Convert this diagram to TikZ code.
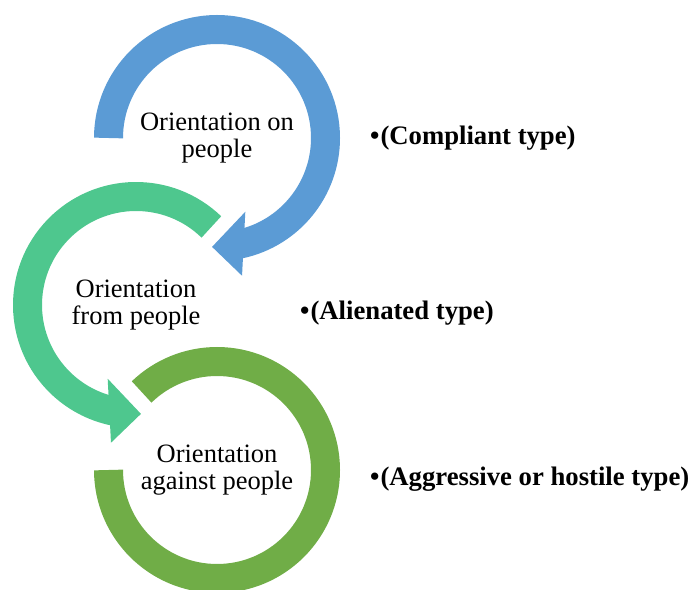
\documentclass[tikz,border=0pt]{standalone}
\usepackage{fontspec}
\setmainfont{Liberation Serif}
\usepackage{tikz}
\usetikzlibrary{positioning}
\definecolor{ringblue}{RGB}{91,155,213}
\definecolor{ringteal}{RGB}{78,199,142}
\definecolor{ringgreen}{RGB}{112,173,71}

\begin{document}
\begin{tikzpicture}[
  x=1pt, y=1pt,
  ring/.style={line width=29pt},
  stage/.style={align=center, inner sep=0pt, font=\fontsize{26.5}{27.5}\selectfont},
  kind/.style={anchor=base west, inner sep=0pt, font=\fontsize{26.7}{30}\selectfont\bfseries}
]
\useasboundingbox (0,0) rectangle (692,589);

\coordinate (onC) at (217,451);
\coordinate (fromC) at (136,284);
\coordinate (againstC) at (217,119);

% rings
\draw[ring, ringgreen] (againstC) ++(180:108.5) arc[start angle=180, end angle=494, radius=108.5];

\draw[ring, ringteal] (fromC) ++(46:108.5) arc[start angle=46, end angle=258, radius=108.5];
\fill[ringteal] ([shift={(249:79)}]fromC) -- ([shift={(259.7:140)}]fromC) -- ([shift={(272.6:109)}]fromC) -- cycle;

\draw[ring, ringblue] (onC) ++(180:108.5) arc[start angle=180, end angle=-78, radius=108.5];
\fill[ringblue] ([shift={(-69:79)}]onC) -- ([shift={(-79.7:140)}]onC) -- ([shift={(-92.6:109)}]onC) -- cycle;

% texts
\node[stage] (on) at (onC) {Orientation on\\people};
\node[stage] (from) at (fromC) {Orientation\\from people};
\node[stage] (against) at (againstC) {Orientation\\against people};

\node[kind] (compliant) at (370,444) {\textbullet\kern1pt(Compliant type)};
\node[kind] (alienated) at (300,269) {\textbullet\kern1pt(Alienated type)};
\node[kind] (hostile) at (370,104) {\textbullet\kern1pt(Aggressive or hostile type)};
\end{tikzpicture}
\end{document}
